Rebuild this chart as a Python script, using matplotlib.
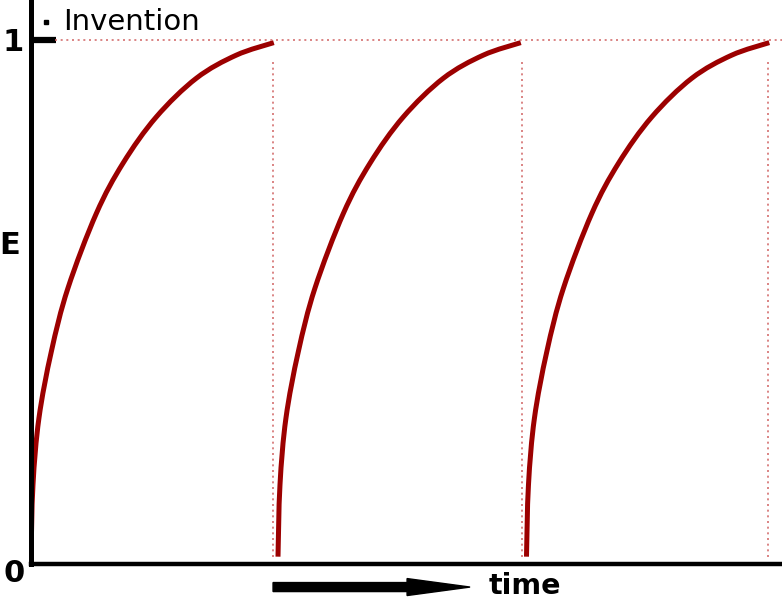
import numpy as np
import matplotlib
matplotlib.use('Agg')
import matplotlib.pyplot as plt
import matplotlib.patches as mpatches
from matplotlib.path import Path

# one learning curve (x offset from its start, E value)
curve_dx = [0.0, 0.008, 0.032, 0.082, 0.149, 0.264, 0.372, 0.506, 0.668,
            0.829, 0.981]
curve_E = [0.014, 0.151, 0.278, 0.405, 0.526, 0.669, 0.765, 0.853, 0.927,
           0.971, 0.995]
# each curve starts again after an invention
starts = [0.002, 1.0, 2.004]
drop_x = [0.98, 1.986, 2.98]

red = '#9c0000'
pink = '#d47070'


def smooth_path(xs, ys):
    # Catmull-Rom through the read points, drawn as cubic bezier pieces
    p = np.column_stack([xs, ys])
    verts = [p[0]]
    codes = [Path.MOVETO]
    for i in range(len(p) - 1):
        a = p[i - 1] if i > 0 else p[i]
        b, c = p[i], p[i + 1]
        d = p[i + 2] if i + 2 < len(p) else p[i + 1]
        verts += [b + (c - a) / 6, c - (d - b) / 6, c]
        codes += [Path.CURVE4] * 3
    return Path(verts, codes)


fig = plt.figure(figsize=(7.82, 5.99), dpi=100)
W, H = 782, 599
x0, y0 = 30.5, 564          # axis origin in pixels
ux, uy = 247.5, 524         # pixels per data unit
ax = fig.add_axes([x0 / W, (H - y0) / H, (W - x0) / W, y0 / H])
ax.set_xlim(0, (W - x0) / ux)
ax.set_ylim(0, y0 / uy)

# dotted guides
ax.plot([0.099, (W - x0) / ux], [1, 1], color=pink, lw=1.2, ls=(0, (1.2, 2.2)))
for d in drop_x:
    ax.plot([d, d], [0.013, 0.962], color=pink, lw=1.2, ls=(0, (1.2, 2.2)))

for s in starts:
    path = smooth_path(np.array(curve_dx) + s, curve_E)
    ax.add_patch(mpatches.PathPatch(path, facecolor='none', edgecolor=red,
                                    lw=3.6, capstyle='butt'))

for side in ['top', 'right']:
    ax.spines[side].set_visible(False)
ax.spines['left'].set_linewidth(3.6)
ax.spines['bottom'].set_linewidth(3.2)
ax.set_xticks([])
ax.set_yticks([1])
ax.set_yticklabels(['1'], fontsize=22, fontweight='bold')
ax.tick_params(axis='y', direction='in', length=18, width=4.5, pad=5)

ax.text(-0.066, -0.018, '0', fontsize=22, fontweight='bold',
        ha='center', va='center', clip_on=False)
ax.text(-0.085, 0.608, 'E', fontsize=22, fontweight='bold',
        ha='center', va='center', clip_on=False)

# legend-like marker and label
ax.plot([0.063], [1.034], 's', color='black', ms=2.5, clip_on=False)
ax.text(0.131, 1.019, 'Invention', fontsize=21, va='baseline', clip_on=False)

# time arrow
arrow = mpatches.FancyArrow(0.980, -0.044, 0.796, 0, width=0.0172,
                            head_width=0.0324, head_length=0.2545,
                            length_includes_head=True, color='black',
                            clip_on=False)
ax.add_patch(arrow)
ax.text(1.853, -0.058, 'time', fontsize=20.5, fontweight='bold',
        va='baseline', clip_on=False)

fig.savefig('out.png', dpi=100)
